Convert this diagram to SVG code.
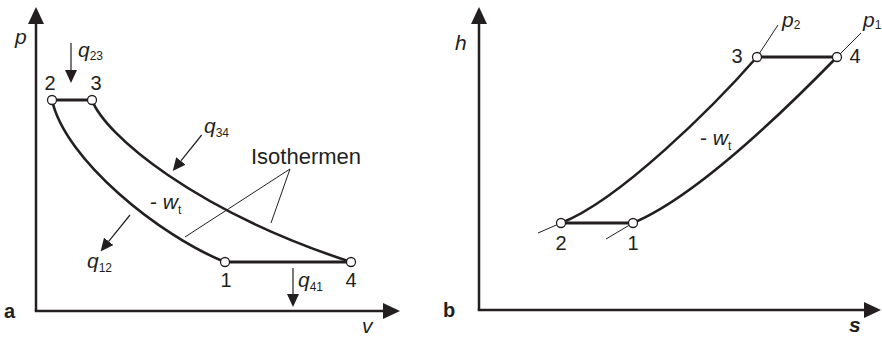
<svg xmlns="http://www.w3.org/2000/svg" width="882" height="337" viewBox="0 0 882 337">
<style>
text{font-family:"Liberation Sans",Arial,sans-serif;fill:#231f20}
.num{font-size:20px;text-anchor:middle}
.var{font-size:21px;font-style:italic}
.sub{font-size:12px;font-style:normal}
.lbl{font-size:20px;font-weight:bold}
.axis{stroke:#231f20;stroke-width:2.5;fill:none}
.curve{stroke:#231f20;stroke-width:2.6;fill:none}
.bar{stroke:#231f20;stroke-width:3;fill:none}
.thin{stroke:#231f20;stroke-width:1;fill:none}
.qa{stroke:#231f20;stroke-width:1.2;fill:none}
.pt{fill:#fff;stroke:#231f20;stroke-width:1.3}
</style>
<defs>
<marker id="axh" viewBox="0 0 17 16" refX="0" refY="8" markerWidth="17" markerHeight="16" markerUnits="userSpaceOnUse" orient="auto">
<path d="M0,0 L17,8 L0,16 z" fill="#231f20"/>
</marker>
<marker id="qh" viewBox="0 0 13 12" refX="0" refY="6" markerWidth="13" markerHeight="12" markerUnits="userSpaceOnUse" orient="auto">
<path d="M0,0 L13,6 L0,12 z" fill="#231f20"/>
</marker>
</defs>

<g id="panel-a-axes">
<path class="axis" d="M36,311 L36,24" marker-end="url(#axh)"/>
<path class="axis" d="M34.75,311 L383,311" marker-end="url(#axh)"/>
<text class="var" x="15" y="44">p</text>
<text class="var" x="362" y="333">v</text>
<text class="lbl" x="4" y="318">a</text>
</g>

<g id="panel-a-connectors">
<path class="curve" d="M52,100 C65,160 160,236 225,262"/>
<path class="curve" d="M92,100 C105,135 195,211 351,262"/>
<path class="bar" d="M52,100 L92,100"/>
<path class="bar" d="M225,262 L351,262"/>
<path class="thin" d="M185,237 L290,169 L271,223"/>
<path class="qa" d="M71,43 L71,70" marker-end="url(#qh)"/>
<path class="qa" d="M293,268 L293,294" marker-end="url(#qh)"/>
<path class="qa" d="M130,215 L108.7,241.4" marker-end="url(#qh)"/>
<path class="qa" d="M201.7,135 L180.9,160.9" marker-end="url(#qh)"/>
</g>

<g id="a-node-2"><circle class="pt" cx="52" cy="100" r="4.5"/><text class="num" x="50" y="90">2</text></g>
<g id="a-node-3"><circle class="pt" cx="92" cy="100" r="4.5"/><text class="num" x="96" y="90">3</text></g>
<g id="a-node-1"><circle class="pt" cx="225" cy="262" r="4.5"/><text class="num" x="226" y="287">1</text></g>
<g id="a-node-4"><circle class="pt" cx="351" cy="262" r="4.5"/><text class="num" x="351" y="287">4</text></g>

<g id="a-labels">
<text class="var" x="78" y="57">q<tspan class="sub" dy="3">23</tspan></text>
<text class="var" x="204" y="133">q<tspan class="sub" dy="4">34</tspan></text>
<text class="var" x="87" y="268">q<tspan class="sub" dy="4">12</tspan></text>
<text class="var" x="298" y="287">q<tspan class="sub" dy="4">41</tspan></text>
<text style="font-size:22px" x="251" y="164">Isothermen</text>
<text style="font-size:21px" x="150" y="209">- <tspan font-style="italic">w</tspan><tspan class="sub" dy="5">t</tspan></text>
</g>

<g id="panel-b-axes">
<path class="axis" d="M479,310 L479,24" marker-end="url(#axh)"/>
<path class="axis" d="M477.75,310 L864,310" marker-end="url(#axh)"/>
<text class="var" x="455" y="50">h</text>
<text class="var" x="849" y="332" font-weight="bold">s</text>
<text class="lbl" x="443" y="317">b</text>
</g>

<g id="panel-b-connectors">
<path class="curve" d="M561,223 C620,200 715,105 757,57"/>
<path class="curve" d="M633,223 C700,195 795,100 837,57"/>
<path class="bar" d="M561,223 L633,223"/>
<path class="bar" d="M757,57 L837,57"/>
<path class="thin" d="M757,57 L778,25"/>
<path class="thin" d="M837,57 L861,33"/>
<path class="thin" d="M561,223 L538,233"/>
<path class="thin" d="M633,223 L606,239"/>
</g>

<g id="b-node-2"><circle class="pt" cx="561" cy="223" r="4.5"/><text class="num" x="561" y="250">2</text></g>
<g id="b-node-1"><circle class="pt" cx="633" cy="223" r="4.5"/><text class="num" x="633" y="250">1</text></g>
<g id="b-node-3"><circle class="pt" cx="757" cy="57" r="4.5"/><text class="num" x="737" y="63">3</text></g>
<g id="b-node-4"><circle class="pt" cx="837" cy="57" r="4.5"/><text class="num" x="855" y="63">4</text></g>

<g id="b-labels">
<text class="var" x="782" y="27">p<tspan class="sub" dy="2">2</tspan></text>
<text class="var" x="863" y="27">p<tspan class="sub" dy="2">1</tspan></text>
<text style="font-size:21px" x="700" y="145">- <tspan font-style="italic">w</tspan><tspan class="sub" dy="5">t</tspan></text>
</g>
</svg>
